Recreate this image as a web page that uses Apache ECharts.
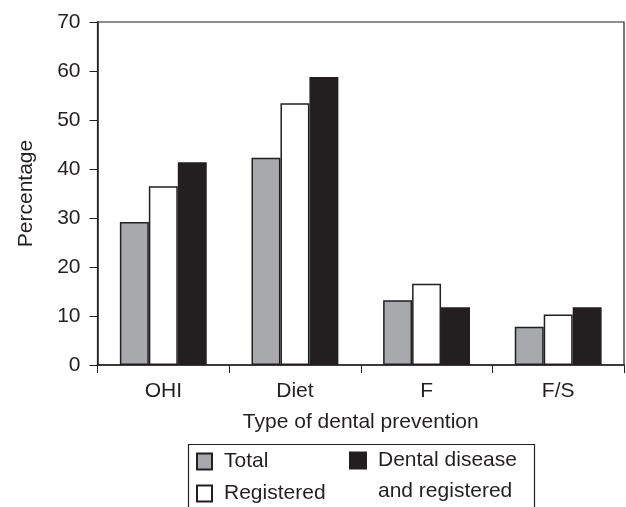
<!DOCTYPE html>
<html>
<head>
<meta charset="utf-8">
<script src="https://cdn.jsdelivr.net/npm/echarts@6/dist/echarts.min.js"></script>
<style>
html,body{margin:0;padding:0;background:#fff;}
#c{width:626px;height:507px;}
</style>
</head>
<body>
<div id="c"></div>
<script>
const categories = ['OHI', 'Diet', 'F', 'F/S'];
const totalValues = [29.2, 42.3, 13.2, 7.8];
const registeredValues = [36.5, 53.4, 16.6, 10.3];
const diseaseValues = [41.4, 58.8, 11.8, 11.8];
const seriesNames = ['Total', 'Registered', 'Dental disease\nand registered'];
const yTicks = { min: 0, max: 70, interval: 10 };

const ink = '#231f20';
const font = '"Liberation Sans", Arial, Helvetica, sans-serif';
const fs = 21;
const chart = echarts.init(document.getElementById('c'), null, { renderer: 'canvas' });

const barBorder = { borderColor: ink, borderWidth: 1.5 };
const legendText = { fontSize: fs, color: ink, fontFamily: font, padding: [0, 0, 0, 7] };

chart.setOption({
  animation: false,
  backgroundColor: '#fff',
  textStyle: { fontFamily: font, color: ink },
  grid: {
    left: 97.5, right: 2, top: 22, bottom: 142,
    show: true, borderColor: ink, borderWidth: 1.2, backgroundColor: 'transparent'
  },
  xAxis: {
    type: 'category',
    data: categories,
    name: 'Type of dental prevention',
    nameLocation: 'middle',
    nameGap: 47,
    nameTextStyle: { fontSize: fs, color: ink, fontFamily: font },
    axisLine: { lineStyle: { color: ink, width: 1.5 } },
    axisTick: { show: true, length: 8, lineStyle: { color: ink, width: 1 } },
    axisLabel: { fontSize: fs, color: ink, margin: 16, fontFamily: font }
  },
  yAxis: {
    type: 'value',
    min: yTicks.min, max: yTicks.max, interval: yTicks.interval,
    name: 'Percentage',
    nameLocation: 'middle',
    nameGap: 61,
    nameTextStyle: { fontSize: fs, color: ink, fontFamily: font },
    splitLine: { show: false },
    axisLine: { show: true, lineStyle: { color: ink, width: 1.5 } },
    axisTick: { show: true, length: 8, lineStyle: { color: ink, width: 1 } },
    axisLabel: { fontSize: fs, color: ink, margin: 17, fontFamily: font }
  },
  legend: [
    {
      data: [seriesNames[0]],
      left: 196, top: 451,
      itemWidth: 15, itemHeight: 16,
      padding: 0, icon: 'rect',
      textStyle: legendText
    },
    {
      data: [seriesNames[1]],
      left: 196, top: 483,
      itemWidth: 15, itemHeight: 16,
      padding: 0, icon: 'rect',
      textStyle: legendText
    },
    {
      data: [seriesNames[2]],
      left: 349, top: 414,
      itemWidth: 16, itemHeight: 16,
      padding: 0, icon: 'rect',
      formatter: function (name) { return ' \n' + name; },
      textStyle: { fontSize: fs, color: ink, fontFamily: font, lineHeight: 31, padding: [0, 0, 0, 7] }
    }
  ],
  graphic: [
    {
      type: 'rect',
      left: 186, top: 442,
      shape: { width: 346, height: 90 },
      style: { fill: 'none', stroke: ink, lineWidth: 1.2 },
      silent: true
    }
  ],
  series: [
    {
      name: seriesNames[0], type: 'bar', data: totalValues,
      barGap: '0%', barCategoryGap: '34%',
      itemStyle: Object.assign({ color: '#a7a9ac' }, barBorder)
    },
    {
      name: seriesNames[1], type: 'bar', data: registeredValues,
      barGap: '0%', barCategoryGap: '34%',
      itemStyle: Object.assign({ color: '#ffffff' }, barBorder)
    },
    {
      name: seriesNames[2], type: 'bar', data: diseaseValues,
      barGap: '0%', barCategoryGap: '34%',
      itemStyle: Object.assign({ color: ink }, barBorder)
    }
  ]
});
</script>
</body>
</html>
